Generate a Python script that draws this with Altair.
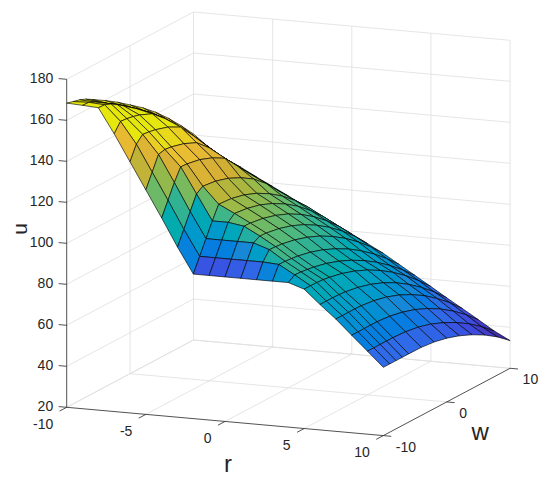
import altair as alt

# ---------------- data ----------------
r_vals = [-10, -9, -8, -7, -6, -5, -4, -3, -2, -1, 0, 1, 2, 3, 4, 5, 6, 7, 8, 9, 10]
w_vals = [-10, -9, -8, -7, -6, -4, -2, 0, 2, 4, 6, 8, 10]

# u(r, w): one row per r value, one column per w value
u_grid = [
    [168.4, 167.5, 166.7, 165.4, 163.6, 159.8, 155.7, 151.1, 146.4, 141.0, 134.8, 127.9, 120.5],
    [168.0, 167.8, 166.3, 164.4, 162.3, 158.3, 153.5, 148.6, 143.1, 136.8, 129.7, 122.3, 114.5],
    [167.5, 167.3, 166.1, 164.1, 161.8, 157.2, 152.2, 146.4, 139.8, 132.6, 125.1, 116.9, 109.7],
    [155.5, 159.9, 159.6, 159.0, 158.1, 155.4, 149.8, 143.0, 135.8, 128.1, 120.1, 112.9, 106.3],
    [142.5, 149.5, 152.6, 152.2, 151.6, 149.6, 146.3, 138.8, 130.9, 123.1, 116.0, 108.8, 102.2],
    [129.5, 136.5, 143.5, 144.3, 143.9, 142.2, 139.4, 133.6, 126.1, 119.0, 111.8, 104.8, 98.3],
    [116.5, 123.5, 130.5, 136.5, 136.3, 135.1, 132.7, 129.2, 122.0, 114.9, 107.9, 100.8, 94.4],
    [103.0, 110.0, 117.0, 124.0, 126.1, 125.3, 123.4, 120.4, 116.5, 111.0, 104.0, 97.0, 90.4],
    [90.5, 97.5, 104.5, 111.5, 118.0, 117.5, 116.0, 113.5, 110.0, 105.6, 100.2, 93.8, 86.4],
    [90.5, 97.5, 104.5, 111.5, 114.2, 113.4, 111.8, 109.2, 105.7, 101.3, 95.9, 89.7, 82.5],
    [90.5, 97.5, 104.5, 110.3, 110.2, 109.2, 107.4, 104.8, 101.3, 96.9, 91.7, 85.6, 78.6],
    [90.5, 97.5, 104.5, 106.2, 106.0, 104.9, 103.0, 100.3, 96.7, 92.4, 87.3, 81.4, 74.6],
    [90.5, 97.5, 101.9, 101.7, 101.4, 100.1, 98.1, 95.4, 91.9, 87.7, 82.7, 77.0, 70.5],
    [90.5, 97.0, 96.9, 96.6, 96.2, 94.8, 92.7, 89.9, 86.5, 82.3, 77.5, 72.0, 65.8],
    [90.5, 92.6, 92.4, 92.0, 91.5, 90.0, 87.8, 85.0, 81.5, 77.4, 72.6, 67.2, 61.1],
    [88.0, 88.0, 87.9, 87.7, 87.2, 85.8, 83.7, 80.9, 77.4, 73.2, 68.3, 62.7, 56.4],
    [81.2, 81.2, 81.2, 81.1, 80.8, 79.7, 77.9, 75.4, 72.1, 68.0, 63.3, 57.8, 51.6],
    [74.8, 74.8, 74.8, 74.8, 74.7, 73.9, 72.4, 70.1, 67.0, 63.2, 58.5, 53.2, 47.0],
    [67.6, 67.6, 67.6, 67.6, 67.6, 67.0, 65.7, 63.7, 60.9, 57.4, 53.1, 48.1, 42.3],
    [60.5, 60.5, 60.5, 60.5, 60.5, 60.1, 59.1, 57.3, 54.7, 51.5, 47.6, 42.9, 37.5],
    [53.3, 53.3, 53.3, 53.3, 53.3, 53.2, 52.5, 51.1, 49.0, 46.2, 42.8, 38.6, 33.5],
]

# colour value of each grid point (as seen in the picture)
c_grid = [
    [168.4, 167.5, 166.7, 165.4, 163.6, 159.8, 155.7, 151.1, 146.4, 141.0, 134.8, 127.9, 120.5],
    [168.0, 167.8, 166.3, 164.4, 162.3, 158.3, 153.5, 148.6, 143.1, 136.8, 129.7, 122.3, 114.5],
    [167.5, 167.3, 166.1, 164.1, 161.8, 157.2, 152.2, 146.4, 139.8, 132.6, 125.1, 116.9, 109.7],
    [135.0, 159.9, 159.6, 159.0, 158.1, 155.4, 149.8, 143.0, 135.8, 128.1, 120.1, 112.9, 106.3],
    [126.8, 133.1, 152.6, 152.2, 151.6, 149.6, 146.3, 138.8, 130.9, 123.1, 116.0, 108.8, 102.2],
    [112.9, 119.4, 126.0, 144.3, 143.9, 142.2, 139.4, 133.6, 126.1, 119.0, 111.8, 104.8, 98.3],
    [94.3, 101.6, 108.9, 136.5, 136.3, 135.1, 132.7, 129.2, 122.0, 114.9, 107.9, 100.8, 94.4],
    [74.6, 83.4, 92.1, 100.9, 126.1, 125.3, 123.4, 120.4, 116.5, 111.0, 104.0, 97.0, 90.4],
    [45.6, 57.4, 69.2, 81.0, 118.0, 117.5, 116.0, 113.5, 110.0, 105.6, 100.2, 93.8, 86.4],
    [42.1, 55.8, 69.5, 83.2, 114.2, 113.4, 111.8, 109.2, 105.7, 101.3, 95.9, 89.7, 82.5],
    [43.3, 58.4, 73.6, 110.3, 110.2, 109.2, 107.4, 104.8, 101.3, 96.9, 91.7, 85.6, 78.6],
    [45.6, 62.0, 78.4, 106.2, 106.0, 104.9, 103.0, 100.3, 96.7, 92.4, 87.3, 81.4, 74.6],
    [47.9, 67.8, 101.9, 101.7, 101.4, 100.1, 98.1, 95.4, 91.9, 87.7, 82.7, 77.0, 70.5],
    [51.4, 97.0, 96.9, 96.6, 96.2, 94.8, 92.7, 89.9, 86.5, 82.3, 77.5, 72.0, 65.8],
    [57.2, 92.6, 92.4, 92.0, 91.5, 90.0, 87.8, 85.0, 81.5, 77.4, 72.6, 67.2, 61.1],
    [88.0, 88.0, 87.9, 87.7, 87.2, 85.8, 83.7, 80.9, 77.4, 73.2, 68.3, 62.7, 56.4],
    [81.2, 81.2, 81.2, 81.1, 80.8, 79.7, 77.9, 75.4, 72.1, 68.0, 63.3, 57.8, 51.6],
    [74.8, 74.8, 74.8, 74.8, 74.7, 73.9, 72.4, 70.1, 67.0, 63.2, 58.5, 53.2, 47.0],
    [67.6, 67.6, 67.6, 67.6, 67.6, 67.0, 65.7, 63.7, 60.9, 57.4, 53.1, 48.1, 42.3],
    [60.5, 60.5, 60.5, 60.5, 60.5, 60.1, 59.1, 57.3, 54.7, 51.5, 47.6, 42.9, 37.5],
    [53.3, 53.3, 53.3, 53.3, 53.3, 53.2, 52.5, 51.1, 49.0, 46.2, 42.8, 38.6, 33.5],
]

u_ticks = [20, 40, 60, 80, 100, 120, 140, 160, 180]
r_ticks = [-10, -5, 0, 5, 10]
w_ticks = [-10, 0, 10]

# ---------------- style ----------------
parula = ["#392399", "#4144dc", "#2f6be8", "#1c8ad5", "#09a2c3", "#23aea2",
          "#59b976", "#9ab949", "#d3ae35", "#e8b933", "#e5e70d"]
C_MIN, C_MAX = 34.0, 150.0
c_domain = [C_MIN + (C_MAX - C_MIN) * k / (len(parula) - 1) for k in range(len(parula))]
GRID_COLOR = "#dedede"
AXIS_COLOR = "#262626"
FONT = "Liberation Sans"

# ---------------- 3-D view (orthographic, screen pixels) ----------------
ORIGIN = (66.7, 407.3)        # screen point of (r=-10, w=-10, u=20)
E_R = (15.83, 1.415)          # screen step for +1 in r
E_W = (6.34, -3.365)          # screen step for +1 in w
E_U = 2.05                    # screen pixels per +1 in u (upwards)
DEPTH = (0.3706, -0.8813, 0.02675)  # toward-viewer direction


def P(r, w, u):
    x = ORIGIN[0] + E_R[0] * (r + 10) + E_W[0] * (w + 10)
    y = ORIGIN[1] + E_R[1] * (r + 10) + E_W[1] * (w + 10) - E_U * (u - 20)
    return [round(x, 2), round(y, 2)]


def depth(r, w, u):
    return DEPTH[0] * r + DEPTH[1] * w + DEPTH[2] * u


def seg(a, b):
    return {"type": "Feature", "properties": {},
            "geometry": {"type": "LineString", "coordinates": [a, b]}}


def shift(p, d):
    return [round(p[0] + d[0], 2), round(p[1] + d[1], 2)]


# ---------------- surface faces (painter's order) ----------------
faces = []
for i in range(len(r_vals) - 1):
    for j in range(len(w_vals) - 1):
        idx = [(i, j), (i + 1, j), (i + 1, j + 1), (i, j + 1)]
        pts = [P(r_vals[a], w_vals[b], u_grid[a][b]) for a, b in idx]
        col = sum(c_grid[a][b] for a, b in idx) / 4.0
        dep = sum(depth(r_vals[a], w_vals[b], u_grid[a][b]) for a, b in idx) / 4.0
        faces.append((dep, {"type": "Feature", "properties": {"c": round(col, 2)},
                            "geometry": {"type": "Polygon", "coordinates": [pts + [pts[0]]]}}))
faces.sort(key=lambda t: t[0])
surface_features = [f for _, f in faces]

# ---------------- box grid ----------------
grid_features = []
for u in u_ticks:
    grid_features.append(seg(P(-10, -10, u), P(-10, 10, u)))
    grid_features.append(seg(P(-10, 10, u), P(10, 10, u)))
for w in [0, 10]:
    grid_features.append(seg(P(-10, w, 20), P(-10, w, 180)))
    grid_features.append(seg(P(-10, w, 20), P(10, w, 20)))
for r in [-5, 0, 5, 10]:
    grid_features.append(seg(P(r, 10, 20), P(r, 10, 180)))
for r in [-10, -5, 0, 5]:
    grid_features.append(seg(P(r, -10, 20), P(r, 10, 20)))

# ---------------- axes + ticks ----------------
U_TICK = (-8.0, -0.7)
R_TICK = (-7.06, 3.75)
W_TICK = (7.97, 0.71)
axis_features = [
    seg(P(-10, -10, 20), P(-10, -10, 180)),
    seg(P(-10, -10, 20), P(10, -10, 20)),
    seg(P(10, -10, 20), P(10, 10, 20)),
]
for u in u_ticks:
    p = P(-10, -10, u)
    axis_features.append(seg(p, shift(p, U_TICK)))
for r in r_ticks:
    p = P(r, -10, 20)
    axis_features.append(seg(p, shift(p, R_TICK)))
for w in w_ticks:
    p = P(10, w, 20)
    axis_features.append(seg(p, shift(p, W_TICK)))


def lab(p, d, t):
    q = shift(p, d)
    return {"x": q[0], "y": q[1], "t": t}


u_labels = [lab(P(-10, -10, u), (-13.5, 0), str(u)) for u in u_ticks]
r_labels = [lab(P(r, -10, 20), (-13.5, 17.5), str(r)) for r in r_ticks]
w_labels = [lab(P(10, w, 20), (12.5, 12), str(w)) for w in w_ticks]
title_rw = [lab(P(0, -10, 20), (3, 43.5), "r"), lab(P(10, 0, 20), (33.4, 31), "w")]
title_u = [lab(P(-10, -10, 100), (-40.2, -14.3), "u")]

# ---------------- chart ----------------
grid_layer = alt.Chart(alt.Data(values=grid_features)).mark_geoshape(
    filled=False, stroke=GRID_COLOR, strokeWidth=0.8)
axis_layer = alt.Chart(alt.Data(values=axis_features)).mark_geoshape(
    filled=False, stroke=AXIS_COLOR, strokeWidth=0.8)
surface_layer = alt.Chart(alt.Data(values=surface_features)).mark_geoshape(
    stroke="black", strokeWidth=0.8, strokeOpacity=0.8, fillOpacity=1
).encode(
    fill=alt.Fill("properties.c:Q",
                  scale=alt.Scale(domain=c_domain, range=parula, clamp=True), legend=None)
)


def text_layer(rows, **kw):
    return alt.Chart(alt.Data(values=rows)).mark_text(font=FONT, color=AXIS_COLOR, **kw).encode(
        longitude="x:Q", latitude="y:Q", text="t:N")


layers = alt.layer(
    grid_layer,
    axis_layer,
    surface_layer,
    text_layer(u_labels, align="right", baseline="middle", fontSize=14),
    text_layer(r_labels, align="right", baseline="middle", fontSize=14),
    text_layer(w_labels, align="left", baseline="middle", fontSize=14),
    text_layer(title_rw, align="center", baseline="middle", fontSize=24),
    text_layer(title_u, align="center", baseline="alphabetic", fontSize=21, angle=270),
).properties(
    width=534, height=471, padding=0, autosize="none",
    projection=alt.Projection(type="identity", scale=1, translate=[-8, -8]),
    background="white",
)

chart = layers.configure_view(stroke=None)
chart.save("out.html", embed_options={"renderer": "svg", "actions": False})
